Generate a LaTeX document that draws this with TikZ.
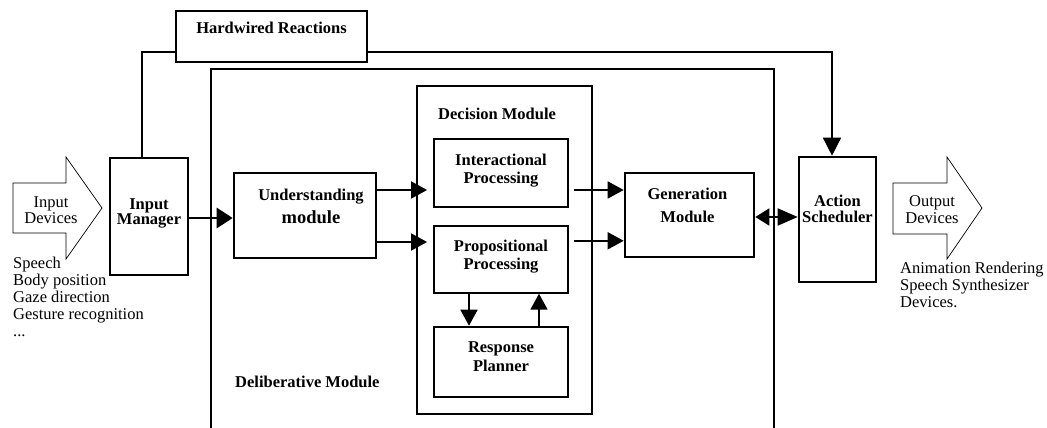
\documentclass[tikz,border=0pt]{standalone}
\usepackage{fontspec}
\setmainfont{Liberation Serif}
\usetikzlibrary{arrows.meta,positioning}

\tikzset{
  modbox/.style={draw, rectangle, line width=2.6pt, inner sep=0pt},
  submodule/.style={draw, rectangle, line width=1.8pt, inner sep=0pt, minimum width=134pt},
  outerframe/.style={draw, rectangle, line width=1.4pt, inner sep=0pt},
  boxtitle/.style={font=\fontsize{16.5}{17}\selectfont\bfseries, align=center, inner sep=0pt},
  devtext/.style={font=\fontsize{16.5}{17}\selectfont, align=left, inner sep=0pt},
  flow/.style={line width=1.8pt, -{Triangle[length=16pt,width=17pt]}},
  wire/.style={line width=1.4pt},
  bigarrow/.style={line width=0.7pt, line join=miter}
}

\begin{document}
\begin{tikzpicture}[x=1pt, y=-1pt]
    \useasboundingbox (0,0) rectangle (1047,428);

    % frames
    \node[outerframe, minimum width=563pt, minimum height=401pt] (delib) at (492.5,269.5) {};
    \node[outerframe, minimum width=191pt, minimum height=51pt] (hard) at (271.5,36.5) {};
    \node[modbox, line width=2.2pt, minimum width=175pt, minimum height=328pt] (dec) at (504.5,250) {};

    % boxes
    \node[modbox, minimum width=78pt, minimum height=117pt] (inman) at (149,216.5) {};
    \node[modbox, minimum width=142pt, minimum height=85pt] (und) at (305,215.5) {};
    \node[submodule, minimum height=68pt] (intr) at (501,173) {};
    \node[submodule, minimum height=67pt, below=17pt of intr] (prop) {};
    \node[submodule, minimum height=70pt, below=32pt of prop] (resp) {};
    \node[modbox, minimum width=129pt, minimum height=84pt] (gen) at (689.5,215) {};
    \node[modbox, minimum width=77pt, minimum height=125pt] (act) at (837.5,219.5) {};

    % box texts
    \node[boxtitle, anchor=base] (hard-t) at (271.5,34) {Hardwired Reactions};
    \node[boxtitle, anchor=base west] (dec-t) at (438,119) {Decision Module};
    \node[boxtitle, anchor=base west] (delib-t) at (235,387) {Deliberative Module};
    \node[boxtitle] (inman-t) at ([yshift=3pt]inman.center) {Input\\[-2pt]Manager};
    \node[boxtitle] (und-t) at ([xshift=6pt, yshift=9.5pt]und.center) {Understanding\\[6pt]{\fontsize{18.5}{19}\selectfont module}};
    \node[boxtitle] (intr-t) at ([yshift=2.7pt]intr.center) {Interactional\\[1pt]Processing};
    \node[boxtitle] (prop-t) at ([yshift=3.2pt]prop.center) {Propositional\\[1pt]Processing};
    \node[boxtitle] (resp-t) at ([yshift=5pt]resp.center) {Response\\[2pt]Planner};
    \node[boxtitle] (gen-t) at ([xshift=-2pt, yshift=9.5pt]gen.center) {Generation\\[6pt]Module};
    \node[boxtitle] (act-t) at ([yshift=10.5pt]act.center) {Action\\[-1pt]Scheduler};

    % devices
    \draw[bigarrow] (13,183) -- (66,183) -- (66,157) -- (102,208) -- (66,259) -- (66,233) -- (13,233) -- cycle;
    \node[devtext, align=center] (indev) at (51,210) {Input\\[-1pt]Devices};
    \node[devtext, anchor=north west] (inlist) at (13,257) {Speech\\Body position\\Gaze direction\\Gesture recognition\\...};
    \draw[bigarrow] (893,183) -- (947,183) -- (947,157) -- (982,208) -- (947,259) -- (947,234) -- (893,234) -- cycle;
    \node[devtext, align=center] (outdev) at (932,210) {Output\\Devices};
    \node[devtext, anchor=north west] (outlist) at (900,262) {Animation Rendering\\Speech Synthesizer\\Devices.};

    % connections
    \draw[wire] ([xshift=-7pt]inman.north) |- ([yshift=-15.5pt]hard.west);
    \draw[wire, -{Triangle[length=18pt,width=18pt]}] ([yshift=-15.5pt]hard.east) -| ([xshift=-5.5pt]act.north);
    \draw[flow, line width=2.8pt, -{Triangle[length=16pt,width=20pt]}] ([yshift=-1.5pt]inman.east) -- ([yshift=-1.5pt]inman.east -| und.west);
    \draw[flow, shorten >=6pt] ([yshift=25.5pt]und.east) -- ([yshift=25.5pt]und.east -| intr.west);
    \draw[flow, shorten >=6pt] ([yshift=-26.5pt]und.east) -- ([yshift=-26.5pt]und.east -| prop.west);
    \draw[flow, shorten <=5pt] ([yshift=-17pt]intr.east) -- ([yshift=-17pt]intr.east -| gen.west);
    \draw[flow, shorten <=5pt] ([yshift=18.5pt]prop.east) -- ([yshift=18.5pt]prop.east -| gen.west);
    \draw[flow] ([xshift=-32pt]prop.south) -- ([xshift=-32pt]prop.south |- resp.north);
    \draw[flow] ([xshift=38pt]resp.north) -- ([xshift=38pt]resp.north |- prop.south);
    \draw[flow, {Triangle[length=14pt,width=17pt]}-{Triangle[length=20pt,width=17pt]}] ([yshift=-2pt]gen.east) -- ([yshift=-2pt]gen.east -| act.west);
\end{tikzpicture}
\end{document}
